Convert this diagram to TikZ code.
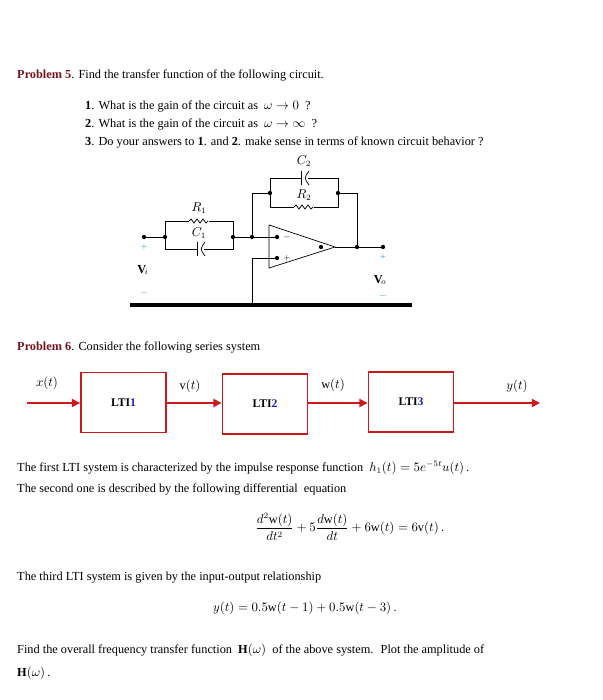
\documentclass[tikz,border=0pt]{standalone}
\usepackage{fontspec}
\setmainfont{Liberation Serif}
\usepackage{amsmath}
\usetikzlibrary{arrows.meta}
\definecolor{probred}{RGB}{120,20,30}
\definecolor{boxred}{RGB}{205,25,30}
\definecolor{pmcyan}{RGB}{60,170,210}
\definecolor{numblue}{RGB}{30,30,200}
\begin{document}
\begin{tikzpicture}[x=0.03cm,y=-0.03cm,font=\fontsize{10.5}{12}\selectfont]
    \tikzset{
        wire/.style={line width=0.6pt},
        dot/.style={circle,fill,inner sep=1.3pt},
        lti/.style={draw=boxred,line width=1.6pt,minimum width=2.55cm,minimum height=1.8cm,font=\fontsize{10}{12}\selectfont\bfseries},
        sig/.style={draw=boxred,line width=1.3pt,-{Triangle[length=7pt,width=7pt]}},
        txt/.style={anchor=west,inner sep=0pt}
    }
    \useasboundingbox (0,0) rectangle (602,700);

    % problem 5
    \node[txt] (p5) at (17,75) {\textcolor{probred}{\textbf{Problem 5}}. Find the transfer function of the following circuit.};
    \node[txt] (q1) at (85,106) {\textbf{1}. What is the gain of the circuit as \ $\omega\to0$ \ ?};
    \node[txt] (q2) at (85,124) {\textbf{2}. What is the gain of the circuit as \ $\omega\to\infty$ \ ?};
    \node[txt] (q3) at (85,142) {\textbf{3}. Do your answers to \textbf{1}. and \textbf{2}. make sense in terms of known circuit behavior ?};

    % circuit
    \draw[wire] (144,237) -- (165,237) |- (233,221) |- (165,249) -- (165,237);
    \draw[wire] (233,237) -- (277,237);
    \draw[wire] (252,237) |- (270,193) |- (338,178) |- (270,207) -- (270,193);
    \draw[wire] (338,193) -- (357,193) -- (357,247);
    \draw[wire] (269,225) -- (335,247) -- (269,268) -- cycle;
    \draw[wire] (335,247) -- (383,247);
    \draw[wire] (277,258) -- (252,258) -- (252,305);
    \draw[line width=2.6pt] (130,305) -- (412,305);
    % R1, C1, R2, C2
    \fill[white] (189,217) rectangle (209,225);
    \draw[wire] (189,221) -- ++(2,-2) -- ++(3,4) -- ++(3,-4) -- ++(3,4) -- ++(3,-4) -- ++(3,4) -- ++(2,-2);
    \fill[white] (294,203) rectangle (314,211);
    \draw[wire] (294,207) -- ++(2,-2) -- ++(3,4) -- ++(3,-4) -- ++(3,4) -- ++(3,-4) -- ++(3,4) -- ++(2,-2);
    \fill[white] (197,242) rectangle (204,256);
    \draw[wire] (197,242) -- (197,256);
    \draw[wire] (205,242) .. controls (200,249) .. (205,256);
    \fill[white] (301,171) rectangle (308,185);
    \draw[wire] (301,171) -- (301,185);
    \draw[wire] (309,171) .. controls (304,178) .. (309,185);
    \node (r1) at (199,208) {$R_1$};
    \node (c1) at (199,233) {$C_1$};
    \node (r2) at (304,195) {$R_2$};
    \node (c2) at (304,161) {$C_2$};
    \foreach \p in {(144,237),(165,237),(233,237),(252,237),(270,193),(338,193),(357,247),(383,247),(277,237),(277,258),(321,247)}
        \node[dot] at \p {};
    \node[font=\scriptsize] at (287,237) {$-$};
    \node[font=\scriptsize] at (287,258) {$+$};
    \node[pmcyan,font=\small] at (144,248) {+};
    \node[pmcyan,font=\small] at (144,293) {$-$};
    \node[pmcyan,font=\small] at (383,258) {+};
    \node[pmcyan,font=\small] at (383,296) {$-$};
    \node (vi) at (143,270) {$\mathbf{V}_{\!i}$};
    \node (vo) at (380,280) {$\mathbf{V}_{\!o}$};

    % problem 6
    \node[txt] (p6) at (17,347) {\textcolor{probred}{\textbf{Problem 6}}. Consider the following series system};
    \node[lti] (b1) at (123.5,402.5) {LTI\textcolor{numblue}{1}};
    \node[lti] (b2) at (265,404) {LTI\textcolor{numblue}{2}};
    \node[lti] (b3) at (411,402) {LTI\textcolor{numblue}{3}};
    \coordinate (in) at (27,403);
    \coordinate (out) at (540,403);
    \draw[sig] (in) -- (b1.west |- in);
    \draw[sig] (b1.east |- in) -- (b2.west |- in);
    \draw[sig] (b2.east |- in) -- (b3.west |- in);
    \draw[sig] (b3.east |- in) -- (out);
    \node (x) at (47,383) {$x(t)$};
    \node (v) at (190,386) {v$(t)$};
    \node (w) at (333,385) {w$(t)$};
    \node (y) at (517,386) {$y(t)$};

    \node[txt] (t1) at (17,468) {The first LTI system is characterized by the impulse response function \ $h_1(t)=5e^{-5t}u(t)$\,.};
    \node[txt] (t2) at (17,489) {The second one is described by the following differential \ equation};
    \node (e1) at (350,527) {$\dfrac{d^2\mathrm{w}(t)}{dt^2}+5\dfrac{d\mathrm{w}(t)}{dt}+6\mathrm{w}(t)=6\mathrm{v}(t)\,.$};
    \node[txt] (t3) at (17,578) {The third LTI system is given by the input-output relationship};
    \node (e2) at (305,608) {$y(t)=0.5\mathrm{w}(t-1)+0.5\mathrm{w}(t-3)\,.$};
    \node[txt] (t4) at (17,650) {Find the overall frequency transfer function \ $\mathbf{H}(\omega)$ \ of the above system. \ Plot the amplitude of};
    \node[txt] (t5) at (17,673) {$\mathbf{H}(\omega)$\,.};
\end{tikzpicture}
\end{document}
